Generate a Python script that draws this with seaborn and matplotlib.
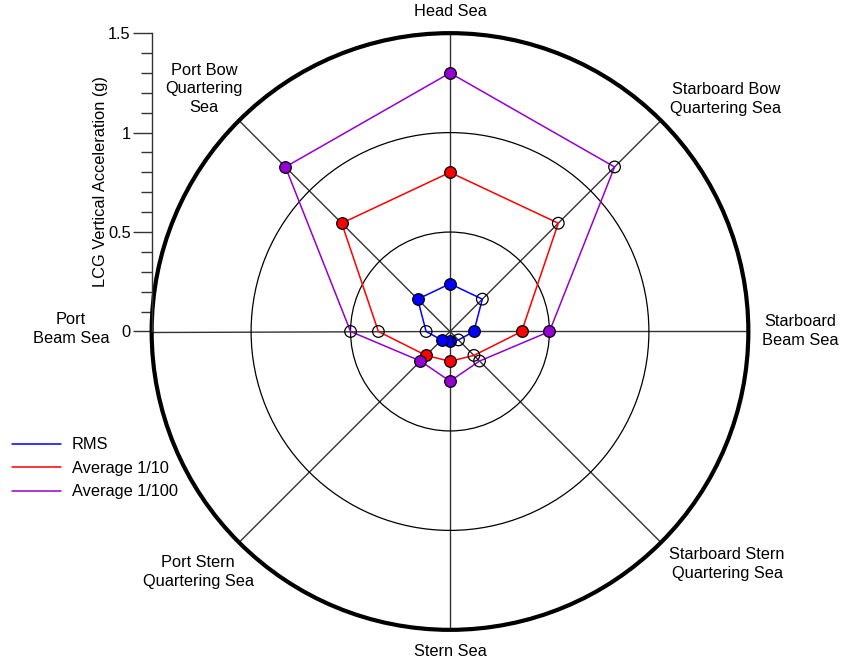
import numpy as np
import pandas as pd
import matplotlib
matplotlib.use("Agg")
import matplotlib.pyplot as plt
from matplotlib.lines import Line2D
from matplotlib.patches import Circle
from matplotlib.ticker import FixedLocator
import seaborn as sns

# Sea directions, clockwise from the bow (degrees from heading)
directions = ["Head Sea", "Starboard Bow\nQuartering Sea", "Starboard\nBeam Sea",
              "Starboard Stern\nQuartering Sea", "Stern Sea",
              "Port Stern\nQuartering Sea", "Port\nBeam Sea", "Port Bow\nQuartering\nSea"]
headings = [0, 45, 90, 135, 180, 225, 270, 315]

# LCG vertical acceleration (g)
rms = [0.24, 0.23, 0.12, 0.06, 0.05, 0.06, 0.12, 0.23]
avg_10 = [0.80, 0.77, 0.36, 0.17, 0.15, 0.17, 0.36, 0.77]
avg_100 = [1.30, 1.17, 0.50, 0.21, 0.25, 0.21, 0.50, 1.17]

# headings whose points are drawn open
open_points = [False, True, False, True, False, False, True, False]

series_names = ["RMS", "Average 1/10", "Average 1/100"]
series_values = [rms, avg_10, avg_100]
series_colors = ["#0000FF", "#FF0000", "#9400D3"]

ring_values = [0.5, 1.0]
r_max = 1.5
major_ticks = [0, 0.5, 1.0, 1.5]
major_labels = ["0", "0.5", "1", "1.5"]

sns.set_theme(style="white")
plt.rcParams["font.family"] = ["Liberation Sans", "DejaVu Sans"]
plt.rcParams["text.color"] = "black"
plt.rcParams["ytick.labelcolor"] = "black"
FS = 11.8

W, H = 841, 661
CX, CY, SCALE = 450.0, 331.5, 198.9   # pixel centre and pixels per g

fig = plt.figure(figsize=(W / 100, H / 100), dpi=100)
ax = fig.add_axes([0, 0, 1, 1])
ax.set_xlim(-CX / SCALE, (W - CX) / SCALE)
ax.set_ylim(-(H - CY) / SCALE, CY / SCALE)
ax.set_aspect("equal", adjustable="box")
ax.set_facecolor("white")

theta = np.deg2rad(headings)

# spokes
for t in theta:
    ax.plot([0, r_max * np.sin(t)], [0, r_max * np.cos(t)], color="#333333",
            lw=1.0, zorder=1, solid_capstyle="butt")

# rings
for rv in ring_values:
    ax.add_patch(Circle((0, 0), rv, fill=False, edgecolor="black", lw=0.9, zorder=1))
ax.add_patch(Circle((0, 0), r_max, fill=False, edgecolor="black", lw=3.0, zorder=2))

# series
frames = []
for name, vals in zip(series_names, series_values):
    v = np.asarray(vals)
    frames.append(pd.DataFrame({
        "series": name,
        "direction": directions,
        "value": v,
        "x": v * np.sin(theta),
        "y": v * np.cos(theta),
        "open": open_points,
    }))
df = pd.concat(frames, ignore_index=True)

for name, color in zip(series_names, series_colors):
    sub = df[df["series"] == name]
    closed = pd.concat([sub, sub.iloc[[0]]], ignore_index=True)
    sns.lineplot(data=closed, x="x", y="y", sort=False, estimator=None,
                 color=color, lw=1.1, ax=ax, zorder=3)
    sns.scatterplot(data=sub[~sub["open"]], x="x", y="y", color=color,
                    edgecolor="black", linewidth=0.9, s=70, ax=ax, zorder=4)
    sns.scatterplot(data=sub[sub["open"]], x="x", y="y", facecolor="none",
                    edgecolor="black", linewidth=0.9, s=70, ax=ax, zorder=4)

# direction labels
label_px = [(450, 12), (726, 99), (800, 331), (727, 564), (450, 652),
            (198, 572), (71, 329), (204, 89)]
for text, (px, py) in zip(directions, label_px):
    ax.text((px - CX) / SCALE, (CY - py) / SCALE, text, ha="center", va="center",
            fontsize=FS, color="black", linespacing=1.27, zorder=5)

# radial scale on the left
for side in ["top", "right", "bottom"]:
    ax.spines[side].set_visible(False)
ax.spines["left"].set_position(("data", -r_max))
ax.spines["left"].set_bounds(0, r_max)
ax.spines["left"].set_color("#333333")
ax.spines["left"].set_linewidth(1.0)
ax.set_xticks([])
ax.yaxis.set_major_locator(FixedLocator(major_ticks))
ax.set_yticklabels(major_labels)
minor = [round(0.1 * i, 1) for i in range(16) if i % 5 != 0]
ax.yaxis.set_minor_locator(FixedLocator(minor))
ax.tick_params(axis="y", which="major", direction="out", length=14, width=1.0,
               color="#333333", pad=1, labelsize=FS, left=True, labelcolor="black")
ax.tick_params(axis="y", which="minor", direction="out", length=8, width=1.0,
               color="#333333", left=True)
ax.set_xlabel("")
ax.set_ylabel("")
ax.text((100 - CX) / SCALE, 0.755, "LCG Vertical Acceleration (g)", rotation=90,
        ha="center", va="center", fontsize=FS, color="black")

# legend
handles = [Line2D([0], [0], color=c, lw=1.1) for c in series_colors]
leg = ax.legend(handles, series_names, loc="upper left",
                bbox_to_anchor=(9 / W, 1 - 434 / H), bbox_transform=fig.transFigure,
                frameon=False, fontsize=FS, handlelength=3.0, handletextpad=0.65,
                labelspacing=0.52, borderaxespad=0, borderpad=0.2)
for t in leg.get_texts():
    t.set_color("black")

fig.savefig("out.png", dpi=100, facecolor="white")
